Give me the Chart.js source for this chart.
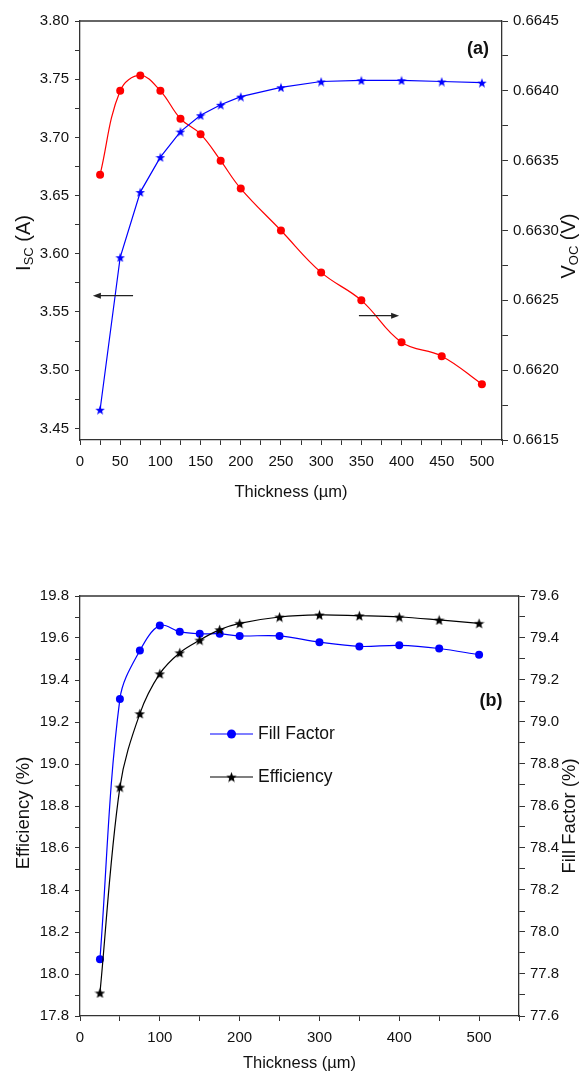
<!DOCTYPE html>
<html>
<head>
<meta charset="utf-8">
<script src="https://cdn.jsdelivr.net/npm/chart.js@4.4.1/dist/chart.umd.min.js"></script>
<style>
  body { margin: 0; background: #fff; width: 588px; height: 1080px; position: relative; overflow: hidden; }
  canvas { position: absolute; left: 0; }
</style>
</head>
<body>
<canvas id="chartA" width="588" height="510" style="top:0"></canvas>
<canvas id="chartB" width="588" height="530" style="top:550px"></canvas>
<script>
// wafer thickness (µm), shared by both panels
const thickness = [25, 50, 75, 100, 125, 150, 175, 200, 250, 300, 350, 400, 450, 500];

// panel (a)
const iscValues = [3.466, 3.597, 3.653, 3.683, 3.705, 3.719, 3.728, 3.735, 3.743, 3.748, 3.749, 3.749, 3.748, 3.747];
const vocValues = [0.6634, 0.6640, 0.66411, 0.6640, 0.6638, 0.66369, 0.6635, 0.6633, 0.6630, 0.6627, 0.6625, 0.6622, 0.6621, 0.6619];

// panel (b)
const effValues = [17.91, 18.89, 19.24, 19.43, 19.53, 19.59, 19.64, 19.67, 19.70, 19.71, 19.706, 19.70, 19.686, 19.67];
const ffValues = [77.87, 79.11, 79.34, 79.46, 79.43, 79.42, 79.42, 79.41, 79.41, 79.38, 79.36, 79.365, 79.35, 79.32];

// tick labels
const xTicksA = [0, 50, 100, 150, 200, 250, 300, 350, 400, 450, 500];
const iscTicks = [3.45, 3.50, 3.55, 3.60, 3.65, 3.70, 3.75, 3.80];
const vocTicks = [0.6615, 0.6620, 0.6625, 0.6630, 0.6635, 0.6640, 0.6645];
const xTicksB = [0, 100, 200, 300, 400, 500];
const effTicks = [17.8, 18.0, 18.2, 18.4, 18.6, 18.8, 19.0, 19.2, 19.4, 19.6, 19.8];
const ffTicks = [77.6, 77.8, 78.0, 78.2, 78.4, 78.6, 78.8, 79.0, 79.2, 79.4, 79.6];

const FONT = "'Liberation Sans', Arial, sans-serif";
const AXIS = '#333';

function pts(ys) { return thickness.map((x, i) => ({ x: x, y: ys[i] })); }

// filled five point star used as marker
function starImage(color, size) {
  const c = document.createElement('canvas');
  c.width = c.height = size;
  const g = c.getContext('2d');
  const R = size / 2, r = R * 0.42;
  g.beginPath();
  for (let i = 0; i < 10; i++) {
    const a = -Math.PI / 2 + i * Math.PI / 5;
    const rr = i % 2 ? r : R;
    g.lineTo(R + rr * Math.cos(a), R + 0.6 + rr * Math.sin(a));
  }
  g.closePath();
  g.fillStyle = color;
  g.fill();
  return c;
}

// majors plus the minor ticks halfway between them
function withMinors(majors, min, max, decimals) {
  const step = (majors[1] - majors[0]) / 2;
  const out = [];
  for (let v = majors[0] - step * 4; v <= max + 1e-9; v += step) {
    const r = +v.toFixed(decimals + 2);
    if (r >= min - 1e-9) out.push(r);
  }
  return out;
}

function linAxis(opts) {
  const majors = opts.majors;
  return {
    type: 'linear',
    position: opts.position,
    min: opts.min,
    max: opts.max,
    afterBuildTicks: s => { s.ticks = withMinors(majors, opts.min, opts.max, opts.decimals).map(v => ({ value: v })); },
    afterFit: s => { if (opts.width) s.width = opts.width; if (opts.height) s.height = opts.height; },
    grid: { drawOnChartArea: false, drawTicks: true, tickLength: opts.tickLength || 5, color: AXIS, tickColor: AXIS },
    border: { color: AXIS, width: 1.3 },
    ticks: {
      autoSkip: false, maxRotation: 0, padding: opts.padding || 5, color: '#111',
      font: { family: FONT, size: 15 },
      callback: v => majors.some(m => Math.abs(m - v) < 1e-7) ? v.toFixed(opts.decimals) : ''
    }
  };
}

function drawTitle(ctx, parts, cx, cy, rotate) {
  ctx.save();
  ctx.translate(cx, cy);
  if (rotate) ctx.rotate(-Math.PI / 2);
  let w = 0;
  parts.forEach(p => { ctx.font = p.size + 'px ' + FONT; p.w = ctx.measureText(p.text).width; w += p.w; });
  let x = -w / 2;
  ctx.fillStyle = '#111';
  ctx.textBaseline = 'middle';
  ctx.textAlign = 'left';
  parts.forEach(p => { ctx.font = p.size + 'px ' + FONT; ctx.fillText(p.text, x, p.dy || 0); x += p.w; });
  ctx.restore();
}

function topBorder(chart) {
  const { ctx, chartArea: a } = chart;
  ctx.save();
  ctx.strokeStyle = AXIS;
  ctx.lineWidth = 1.3;
  ctx.beginPath();
  ctx.moveTo(a.left, a.top);
  ctx.lineTo(a.right, a.top);
  ctx.stroke();
  ctx.restore();
}

function arrow(ctx, x1, x2, y) {
  const dir = Math.sign(x2 - x1);
  ctx.save();
  ctx.strokeStyle = '#222';
  ctx.fillStyle = '#222';
  ctx.lineWidth = 1.2;
  ctx.beginPath();
  ctx.moveTo(x1, y);
  ctx.lineTo(x2 - dir * 6, y);
  ctx.stroke();
  ctx.beginPath();
  ctx.moveTo(x2, y);
  ctx.lineTo(x2 - dir * 8, y - 3);
  ctx.lineTo(x2 - dir * 8, y + 3);
  ctx.closePath();
  ctx.fill();
  ctx.restore();
}

const decorA = {
  id: 'decorA',
  afterDraw(chart) {
    const { ctx, chartArea: a, scales } = chart;
    topBorder(chart);
    drawTitle(ctx, [{ text: 'I', size: 20 }, { text: 'SC', size: 13, dy: 5 }, { text: ' (A)', size: 20 }], 24, 243, true);
    drawTitle(ctx, [{ text: 'V', size: 20 }, { text: 'OC', size: 13, dy: 5 }, { text: ' (V)', size: 20 }], 569, 246, true);
    drawTitle(ctx, [{ text: 'Thickness (µm)', size: 16.5 }], (a.left + a.right) / 2, 492, false);
    ctx.save();
    ctx.font = 'bold 18px ' + FONT;
    ctx.fillStyle = '#111';
    ctx.textAlign = 'center';
    ctx.textBaseline = 'middle';
    ctx.fillText('(a)', scales.x.getPixelForValue(495), scales.y.getPixelForValue(3.776));
    ctx.restore();
    arrow(ctx, scales.x.getPixelForValue(66), scales.x.getPixelForValue(16), scales.y.getPixelForValue(3.564));
    arrow(ctx, scales.x.getPixelForValue(347), scales.x.getPixelForValue(397), scales.y1.getPixelForValue(0.66239));
  }
};

const starBlue = starImage('#0000ff', 10);
const starBlack = starImage('#000000', 11);

new Chart(document.getElementById('chartA'), {
  type: 'line',
  data: {
    datasets: [
      { label: 'Isc', data: pts(iscValues), yAxisID: 'y', borderColor: '#0000ff', borderWidth: 1.2,
        pointStyle: starBlue, tension: 0 },
      { label: 'Voc', data: pts(vocValues), yAxisID: 'y1', borderColor: '#ff0000', backgroundColor: '#ff0000',
        borderWidth: 1.2, pointStyle: 'circle', pointRadius: 4, pointBorderWidth: 0, tension: 0.4 }
    ]
  },
  options: {
    responsive: false,
    animation: false,
    layout: { padding: { top: 21, left: 0, right: 0, bottom: 0 } },
    plugins: { legend: { display: false }, tooltip: { enabled: false } },
    scales: {
      x: linAxis({ position: 'bottom', min: 0, max: 525, majors: xTicksA, decimals: 0, height: 70, padding: 8 }),
      y: linAxis({ position: 'left', min: 3.44, max: 3.80, majors: iscTicks, decimals: 2, width: 80, padding: 6 }),
      y1: linAxis({ position: 'right', min: 0.6615, max: 0.6645, majors: vocTicks, decimals: 4, width: 86, padding: 5, tickLength: 6 })
    }
  },
  plugins: [decorA]
});

const decorB = {
  id: 'decorB',
  afterDraw(chart) {
    const { ctx, chartArea: a, scales } = chart;
    topBorder(chart);
    drawTitle(ctx, [{ text: 'Efficiency (%)', size: 18.5 }], 24, 263, true);
    drawTitle(ctx, [{ text: 'Fill Factor (%)', size: 18.5 }], 570, 266, true);
    drawTitle(ctx, [{ text: 'Thickness (µm)', size: 16.5 }], (a.left + a.right) / 2, 513, false);
    ctx.save();
    ctx.font = 'bold 18px ' + FONT;
    ctx.fillStyle = '#111';
    ctx.textAlign = 'center';
    ctx.textBaseline = 'middle';
    ctx.fillText('(b)', scales.x.getPixelForValue(515), scales.y.getPixelForValue(19.3));
    // legend
    const rows = [
      { label: 'Fill Factor', color: '#0000ff', y: 184, mark: 'circle' },
      { label: 'Efficiency', color: '#000000', y: 227, mark: 'star' }
    ];
    rows.forEach(r => {
      ctx.strokeStyle = r.color;
      ctx.lineWidth = 1.2;
      ctx.beginPath();
      ctx.moveTo(210, r.y);
      ctx.lineTo(253, r.y);
      ctx.stroke();
      if (r.mark === 'circle') {
        ctx.fillStyle = r.color;
        ctx.beginPath();
        ctx.arc(231.5, r.y, 4.5, 0, Math.PI * 2);
        ctx.fill();
      } else {
        ctx.drawImage(starBlack, 231.5 - 5.5, r.y - 5.5);
      }
      ctx.fillStyle = '#111';
      ctx.font = '17.5px ' + FONT;
      ctx.textAlign = 'left';
      ctx.fillText(r.label, 258, r.y);
    });
    ctx.restore();
  }
};

new Chart(document.getElementById('chartB'), {
  type: 'line',
  data: {
    datasets: [
      { label: 'Efficiency', data: pts(effValues), yAxisID: 'y', borderColor: '#000000', borderWidth: 1.2,
        pointStyle: starBlack, tension: 0.35 },
      { label: 'Fill Factor', data: pts(ffValues), yAxisID: 'y1', borderColor: '#0000ff', backgroundColor: '#0000ff',
        borderWidth: 1.2, pointStyle: 'circle', pointRadius: 4, pointBorderWidth: 0, tension: 0.35 }
    ]
  },
  options: {
    responsive: false,
    animation: false,
    layout: { padding: { top: 46, left: 0, right: 0, bottom: 0 } },
    plugins: { legend: { display: false }, tooltip: { enabled: false } },
    scales: {
      x: linAxis({ position: 'bottom', min: 0, max: 550, majors: xTicksB, decimals: 0, height: 64, padding: 8 }),
      y: linAxis({ position: 'left', min: 17.8, max: 19.8, majors: effTicks, decimals: 1, width: 80, padding: 6 }),
      y1: linAxis({ position: 'right', min: 77.6, max: 79.6, majors: ffTicks, decimals: 1, width: 69, padding: 5, tickLength: 6 })
    }
  },
  plugins: [decorB]
});
</script>
</body>
</html>
